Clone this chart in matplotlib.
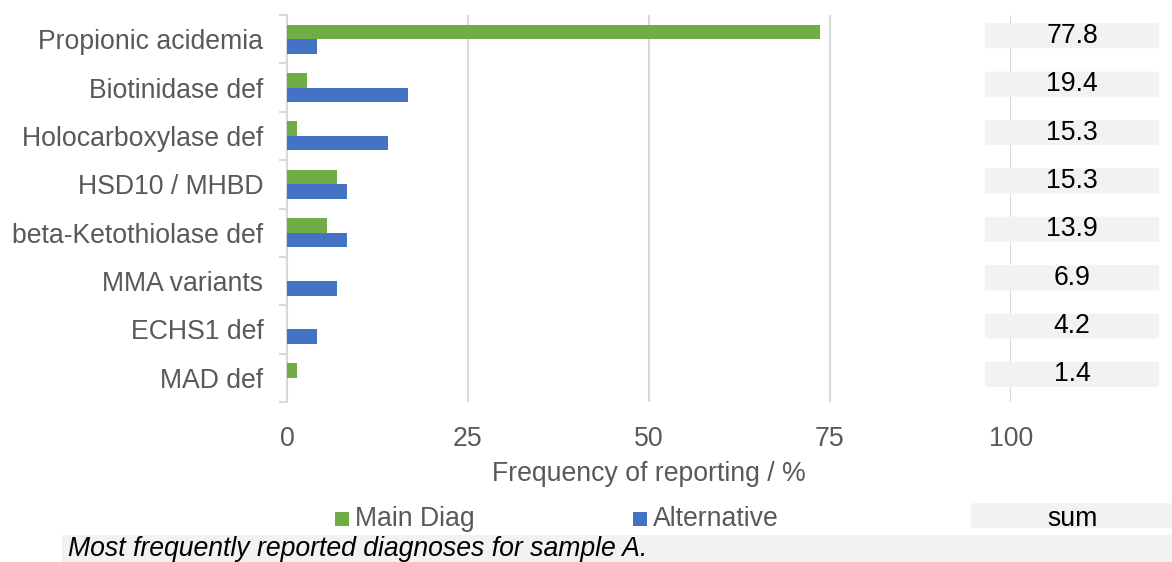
import matplotlib
matplotlib.use("Agg")
import matplotlib.pyplot as plt
from matplotlib.patches import FancyBboxPatch, Rectangle
import numpy as np

plt.rcParams['font.family'] = ['Liberation Sans', 'DejaVu Sans']

categories = ["Propionic acidemia", "Biotinidase def", "Holocarboxylase def",
              "HSD10 / MHBD", "beta-Ketothiolase def", "MMA variants",
              "ECHS1 def", "MAD def"]
main_diag = [73.61, 2.78, 1.39, 6.94, 5.56, 0.0, 0.0, 1.39]
alternative = [4.17, 16.67, 13.89, 8.33, 8.33, 6.94, 4.17, 0.0]
totals = [77.8, 19.4, 15.3, 15.3, 13.9, 6.9, 4.2, 1.4]
x_ticks = [0, 25, 50, 75, 100]
series_names = ["Main Diag", "Alternative"]
caption = "Most frequently reported diagnoses for sample A."
x_label = "Frequency of reporting / %"

GREEN = "#70AD47"
BLUE = "#4472C4"
GRID = "#D9D9D9"
TXT = "#595959"
BOX = "#F2F2F2"
FS = 19.2

W, H = 1172, 562
fig = plt.figure(figsize=(W / 100, H / 100), dpi=100)

def fx(px):
    return px / W

def fy(py):
    return 1 - py / H

ax = fig.add_axes([fx(287), fy(402), fx(1011) - fx(287), fy(15) - fy(402)])
n = len(categories)
y = np.arange(n)
bh = 0.3
ax.barh(y - bh / 2, main_diag, height=bh, color=GREEN, zorder=3)
ax.barh(y + bh / 2, alternative, height=bh, color=BLUE, zorder=3)

ax.set_xlim(0, 100)
ax.set_ylim(n - 0.5, -0.5)
ax.set_xticks(x_ticks)
ax.set_xticklabels([str(t) for t in x_ticks])
ax.set_yticks(y)
ax.set_yticklabels(categories)
ax.set_yticks(np.arange(n + 1) - 0.5, minor=True)
ax.tick_params(axis='y', which='major', length=0, pad=17, labelsize=FS, labelcolor=TXT)
ax.tick_params(axis='y', which='minor', length=5.5, width=1.5, color=GRID)
ax.tick_params(axis='x', length=0, pad=17, labelsize=FS, labelcolor=TXT)
ax.grid(axis='x', color=GRID, linewidth=1.5, zorder=0)
for s in ['top', 'right', 'bottom']:
    ax.spines[s].set_visible(False)
ax.spines['left'].set_color(GRID)
ax.spines['left'].set_linewidth(1.5)
ax.set_xlabel(x_label, fontsize=FS, color=TXT, labelpad=6.5)

# totals column
ax2 = fig.add_axes([fx(985), fy(402), fx(1159) - fx(985), fy(15) - fy(402)])
ax2.set_xlim(0, 1)
ax2.set_ylim(n - 0.5, -0.5)
ax2.axis('off')
box_h = 0.52
for i, t in enumerate(totals):
    yc = i - 0.07
    ax2.add_patch(FancyBboxPatch((0.0, yc - box_h / 2), 1.0, box_h,
                                 boxstyle="round,pad=0,rounding_size=0.02",
                                 facecolor=BOX, edgecolor='none',
                                 mutation_aspect=0.5))
    ax2.text(0.5, yc, f"{t:.1f}", ha='center', va='center', fontsize=FS, color='black')

# legend
for px, name, col in [(335, series_names[0], GREEN), (633, series_names[1], BLUE)]:
    fig.patches.append(Rectangle((fx(px), fy(526)), fx(14), fy(512) - fy(526),
                                 transform=fig.transFigure, facecolor=col, edgecolor='none'))
    fig.text(fx(px + 20), fy(519), name, ha='left', va='center', fontsize=FS, color=TXT)

# "sum" header box
fig.patches.append(FancyBboxPatch((fx(971), fy(528)), fx(1172) - fx(971), fy(503) - fy(528),
                                  boxstyle="round,pad=0,rounding_size=0.004",
                                  transform=fig.transFigure, facecolor=BOX, edgecolor='none'))
fig.text(fx(1072), fy(526), "sum", ha='center', va='baseline', fontsize=FS, color='black')

# caption strip
fig.patches.append(Rectangle((fx(62), 0), 1 - fx(62), fy(535), transform=fig.transFigure,
                             facecolor=BOX, edgecolor='none', zorder=5))
fig.text(fx(68), fy(556), caption, ha='left', va='baseline', fontsize=FS,
         style='italic', color='black', zorder=6)

fig.savefig("out.png", dpi=100)
